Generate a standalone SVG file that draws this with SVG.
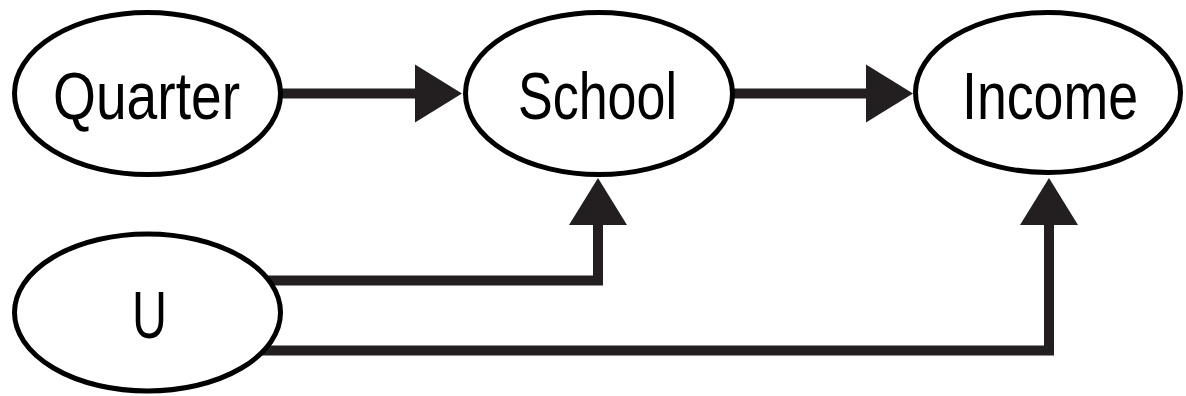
<svg xmlns="http://www.w3.org/2000/svg" width="1186" height="396" viewBox="0 0 1186 396">
<style>
.node ellipse{fill:#ffffff;stroke:#000000;stroke-width:5}
.node text{font-family:"Liberation Sans",Arial,sans-serif;font-size:66px;fill:#000000;text-anchor:middle}
.edge{fill:none;stroke:#231f20;stroke-width:10;stroke-linejoin:miter;stroke-linecap:butt}
</style>
<defs>
<marker id="arrow" markerUnits="userSpaceOnUse" viewBox="0 0 47 58" refX="0" refY="29" markerWidth="47" markerHeight="58" orient="auto" overflow="visible">
<path d="M0,0 L47,29 L0,58 Z" fill="#231f20"/>
</marker>
</defs>
<rect width="1186" height="396" fill="#ffffff"/>
<g id="connectors">
<path class="edge" d="M250,93.5 H415" marker-end="url(#arrow)"/>
<path class="edge" d="M700,93.5 H866" marker-end="url(#arrow)"/>
<path class="edge" d="M200,280.5 H598 V225" marker-end="url(#arrow)"/>
<path class="edge" d="M200,350.5 H1049 V225" marker-end="url(#arrow)"/>
</g>
<g id="node-quarter" class="node">
<ellipse cx="147.5" cy="93.5" rx="133" ry="81"/>
<text x="146.5" y="119" textLength="187" lengthAdjust="spacingAndGlyphs">Quarter</text>
</g>
<g id="node-school" class="node">
<ellipse cx="599" cy="93.5" rx="133.5" ry="81"/>
<text x="597.5" y="119" textLength="159" lengthAdjust="spacingAndGlyphs">School</text>
</g>
<g id="node-income" class="node">
<ellipse cx="1048" cy="92.5" rx="132.5" ry="80"/>
<text x="1050" y="119" textLength="176" lengthAdjust="spacingAndGlyphs">Income</text>
</g>
<g id="node-u" class="node">
<ellipse cx="147.5" cy="312.5" rx="133" ry="78.5"/>
<text x="149.5" y="338" textLength="35" lengthAdjust="spacingAndGlyphs">U</text>
</g>
</svg>
